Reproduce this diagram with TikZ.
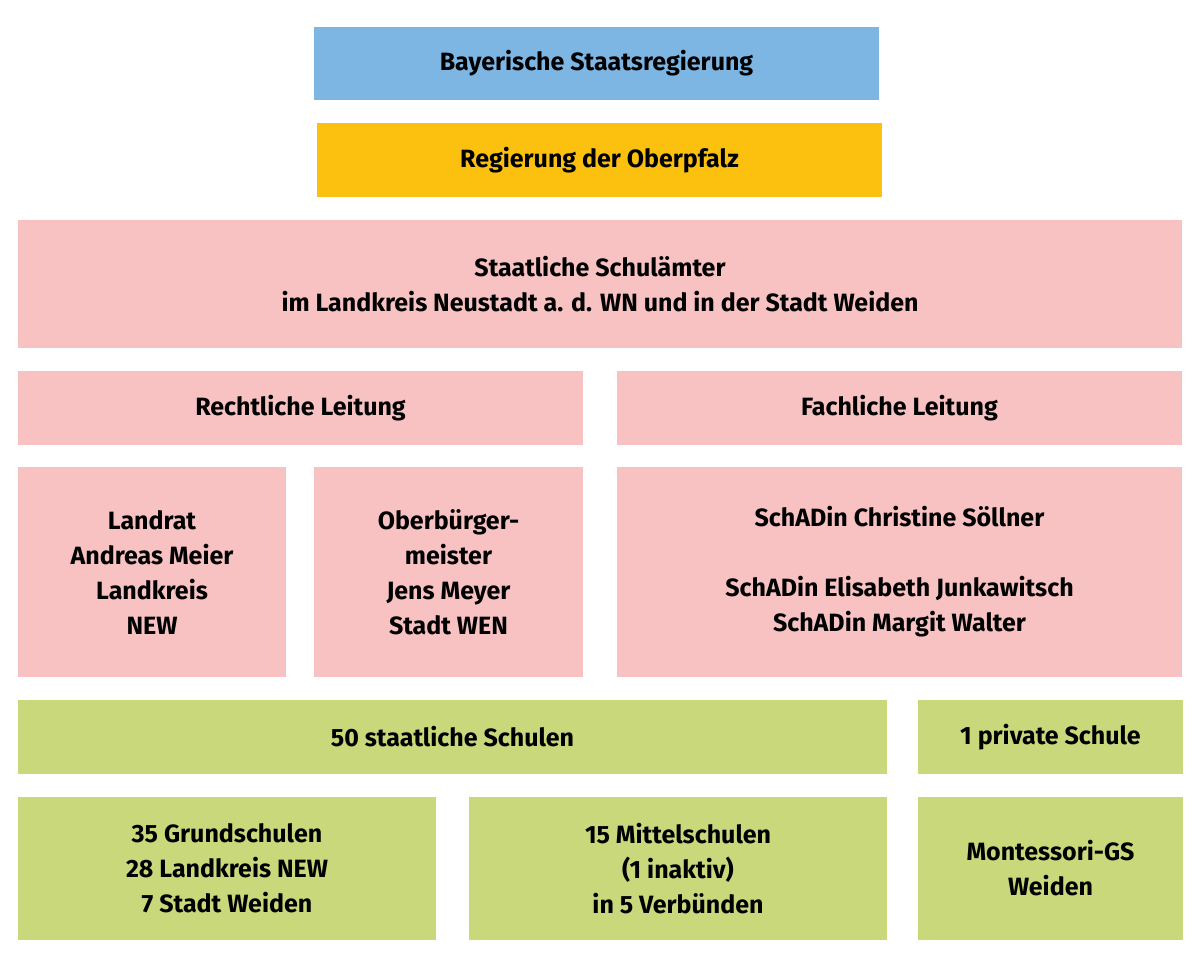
\documentclass[tikz,border=0pt]{standalone}
\usepackage{fontspec}
\setmainfont{Fira Sans}
\definecolor{cblue}{HTML}{7DB5E3}
\definecolor{cyel}{HTML}{FBC10E}
\definecolor{cpink}{HTML}{F8C2C2}
\definecolor{cgreen}{HTML}{C9D87A}
\tikzset{box/.style={inner sep=0pt,align=center,font=\fontsize{12.5}{17.5}\selectfont\bfseries}}
\newcommand{\bx}[7]{\fill[#6] (#2,#3) rectangle (#4,#5);
\node[box] (#1) at ({(#2+#4)/2},{(#3+#5)/2}) {#7};}
\begin{document}
\begin{tikzpicture}[x=0.5pt,y=-0.5pt]
\useasboundingbox (0,0) rectangle (1200,960);
\bx{bay}{314}{27}{879}{100}{cblue}{Bayerische Staatsregierung}
\bx{reg}{317}{123}{882}{197}{cyel}{Regierung der Oberpfalz}
\bx{sta}{18}{220}{1182}{348}{cpink}{Staatliche Schulämter\\im Landkreis Neustadt a. d. WN und in der Stadt Weiden}
\bx{rec}{18}{371}{583}{445}{cpink}{Rechtliche Leitung}
\bx{fac}{617}{371}{1182}{445}{cpink}{Fachliche Leitung}
\bx{lan}{18}{467}{286}{677}{cpink}{Landrat\\Andreas Meier\\Landkreis\\NEW}
\bx{obb}{314}{467}{583}{677}{cpink}{Oberbürger-\\meister\\Jens Meyer\\Stadt WEN}
\bx{sch}{617}{467}{1182}{677}{cpink}{SchADin Christine Söllner\\[17.5pt]SchADin Elisabeth Junkawitsch\\SchADin Margit Walter}
\bx{fif}{18}{700}{887}{774}{cgreen}{50 staatliche Schulen}
\bx{pri}{918}{700}{1183}{774}{cgreen}{1 private Schule}
\bx{gru}{18}{797}{436}{940}{cgreen}{35 Grundschulen\\28 Landkreis NEW\\7 Stadt Weiden}
\bx{mit}{469}{797}{887}{940}{cgreen}{15 Mittelschulen\\(1 inaktiv)\\in 5 Verbünden}
\bx{mon}{918}{797}{1183}{940}{cgreen}{Montessori-GS\\Weiden}
\end{tikzpicture}
\end{document}
